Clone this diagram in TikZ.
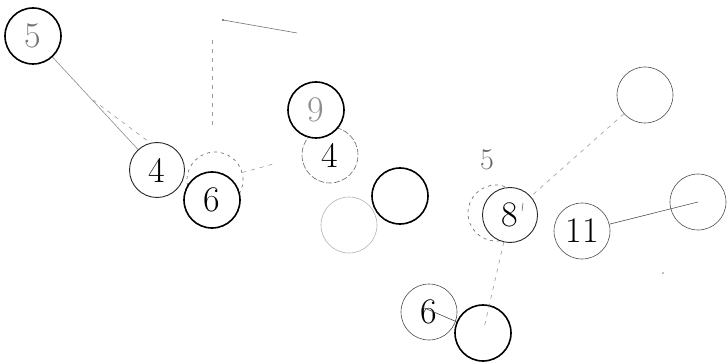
\documentclass[tikz,border=0pt]{standalone}
\usetikzlibrary{calc}
\begin{document}
\begin{tikzpicture}[x=1pt,y=-1pt,
  cthick/.style={circle,draw=black,fill=white,line width=1.6pt,minimum size=56pt,inner sep=0pt,font=\fontsize{36}{38}\selectfont},
  cmed/.style={circle,draw=black!85,fill=white,line width=0.9pt,minimum size=55pt,inner sep=0pt,font=\fontsize{36}{38}\selectfont},
  cthin/.style={circle,draw=black!70,fill=white,line width=0.6pt,minimum size=56pt,inner sep=0pt,font=\fontsize{36}{38}\selectfont},
  cfaint/.style={circle,draw=black!30,line width=0.6pt,minimum size=56pt,inner sep=0pt},
  cdash/.style={circle,draw=black!55,dashed,dash pattern=on 3pt off 4pt,line width=0.7pt,minimum size=56pt,inner sep=0pt},
  edge/.style={draw=black!70,line width=0.6pt},
  fedge/.style={draw=black!40,dashed,dash pattern=on 4pt off 5pt,line width=0.6pt}]
\useasboundingbox (0,0) rectangle (727,363);
% coordinates for free ends
\coordinate (v1) at (212,40);
\coordinate (v2) at (212,125);
\coordinate (t1) at (223,20);
\coordinate (t2) at (297,33);
\coordinate (r1) at (277,163);
\coordinate (s1) at (93,100);
\coordinate (s2) at (173,160);
\coordinate (k1) at (523,203);
\coordinate (k2) at (522,211);
\coordinate (b1) at (484,328);
\coordinate (g1) at (422,307);
% background-ish circles first
\node[cdash] (d6) at (215,180) {};
\node[cdash] (d5) at (496,213) {};
\node[cfaint] (nB) at (349,225) {};
\node[text=black!60,font=\fontsize{30}{32}\selectfont] (l5) at (487,160) {5};
% connectors behind nodes
\draw[edge,draw=black!45] (33,36) -- (157,170);
\draw[fedge] (s1) -- (s2);
\draw[fedge] (v1) -- (v2);
\draw[edge,draw=black!55] (t1) -- (t2);
\fill[black!60] (t1) circle (1.2pt);
\draw[fedge] (d6) -- (r1);
% main nodes
\node[cthick,text=black!55] (n5) at (33,36) {5};
\node[cmed] (n4a) at (157,170) {4};
\node[cthick] (n6a) at (212,200) {6};
\node[cthin,draw=black!60,dashed,dash pattern=on 6pt off 2pt] (n4b) at (330,155) {4};
\node[cthick,text=black!45] (n9) at (316,110) {9};
\node[cthick] (nA) at (400,196) {};
\node[cthin] (nC) at (645,95) {};
\node[cmed] (n8) at (510,215) {8};
\node[cthin] (n11) at (582,231) {11};
\node[cthin,fill=none] (nD) at (698,202) {};
\node[cthin] (n6b) at (429,312) {6};
\node[cthick,fill=none] (n7) at (483,333) {};
\draw[fedge] (nC) -- (n8);
\draw[edge] (n11) -- (nD.center);
\draw[edge] (g1) -- (n7);
\draw[fedge] (n8) -- (b1);
\draw[edge,line width=0.5pt] (k1) -- (k2);
\fill[black!50] (663,273) circle (0.8pt);
\end{tikzpicture}
\end{document}
